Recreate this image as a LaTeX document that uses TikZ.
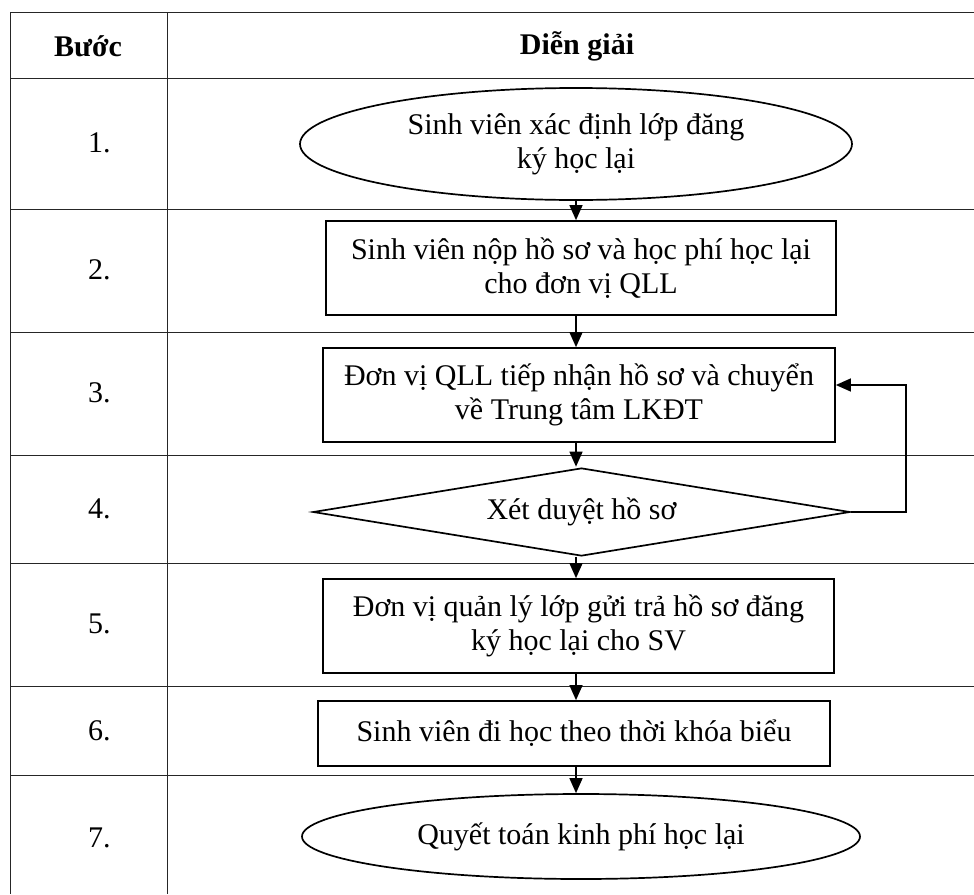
\documentclass[tikz,border=0pt]{standalone}
\usepackage{fontspec}
\setmainfont{Liberation Serif}
\usetikzlibrary{shapes.geometric,arrows.meta}
\tikzset{
  grid/.style={draw=black!85, line width=0.9pt},
  box/.style={draw, line width=1.7pt, rectangle, inner sep=0pt, align=center},
  oval/.style={draw, line width=1.7pt, ellipse, inner sep=0pt, align=center},
  decide/.style={draw, line width=1.7pt, diamond, aspect=6, inner sep=0pt, align=center},
  flow/.style={line width=1.4pt, -{Triangle[length=15pt,width=13pt]}},
  stepno/.style={anchor=west, inner sep=0pt},
  head/.style={font=\bfseries, inner sep=0pt}
}
\begin{document}
\begin{tikzpicture}[x=1pt,y=-1pt]
\useasboundingbox (0,0) rectangle (974,894);
\fontsize{30}{34}\selectfont
% table
\foreach \yy in {12,78,209,332,455,563,686,775}
  \draw[grid] (10,\yy) -- (974,\yy);
\draw[grid] (10,12) -- (10,894);
\draw[grid] (167,12) -- (167,894);
% header
\node[head] (hb) at (88,46) {Bước};
\node[head] (hd) at (577,46) {Diễn giải};
% step numbers
\node[stepno] (n1) at (88,143) {1.};
\node[stepno] (n2) at (88,270) {2.};
\node[stepno] (n3) at (88,393) {3.};
\node[stepno] (n4) at (88,509) {4.};
\node[stepno] (n5) at (88,624) {5.};
\node[stepno] (n6) at (88,731) {6.};
\node[stepno] (n7) at (88,838) {7.};
% flow shapes
\node[oval, minimum width=552pt, minimum height=112pt] (e1) at (576,144) {Sinh viên xác định lớp đăng\\ký học lại};
\node[box, minimum width=510pt, minimum height=94pt] (r2) at (581,268) {Sinh viên nộp hồ sơ và học phí học lại\\cho đơn vị QLL};
\node[box, minimum width=512pt, minimum height=94pt] (r3) at (579,395) {Đơn vị QLL tiếp nhận hồ sơ và chuyển\\về Trung tâm LKĐT};
\node[decide, minimum width=537pt, minimum height=88pt] (d4) at (581.5,512) {Xét duyệt hồ sơ};
\node[box, minimum width=511pt, minimum height=94pt] (r5) at (578.5,626) {Đơn vị quản lý lớp gửi trả hồ sơ đăng\\ký học lại cho SV};
\node[box, minimum width=512pt, minimum height=65pt] (r6) at (574,733.5) {Sinh viên đi học theo thời khóa biểu};
\node[oval, minimum width=558pt, minimum height=85pt] (e7) at (581,836.5) {Quyết toán kinh phí học lại};
% connectors
\coordinate (xa) at (576,0);
\coordinate (fb) at (906,385);
\draw[flow] (e1.south -| xa) -- (r2.north -| xa);
\draw[flow] (r2.south -| xa) -- (r3.north -| xa);
\draw[flow] (r3.south -| xa) -- ([yshift=0.5pt]d4.north -| xa);
\draw[flow] ([yshift=-0.5pt]d4.south -| xa) -- (r5.north -| xa);
\draw[flow] (r5.south -| xa) -- (r6.north -| xa);
\draw[flow] (r6.south -| xa) -- (e7.north -| xa);
\draw[flow] (d4.east) -- (d4.east -| fb) -- (fb) -- (r3.east |- fb);
\end{tikzpicture}
\end{document}
